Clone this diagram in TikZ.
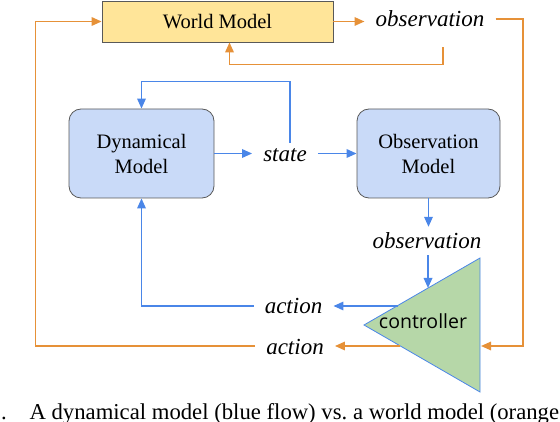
\documentclass[tikz,border=0pt]{standalone}
\usepackage{fontspec}
\setmainfont{Liberation Serif}
\newfontfamily\ctrlfont{Open Sans}
\usepackage{tikz}
\usetikzlibrary{positioning,arrows.meta}
\definecolor{flowblue}{HTML}{4A86E8}
\definecolor{floworange}{HTML}{E69138}
\definecolor{worldfill}{HTML}{FFE599}
\definecolor{modelfill}{HTML}{C9DAF8}
\definecolor{ctrlfill}{HTML}{B6D7A8}
\definecolor{edgegray}{HTML}{595959}

\begin{document}
\begin{tikzpicture}[x=1pt, y=-1pt,
    bflow/.style={draw=flowblue, line width=1.7pt, -{Triangle[length=10pt,width=8.5pt]}},
    oflow/.style={draw=floworange, line width=1.7pt, -{Triangle[length=10pt,width=8.5pt]}},
    model/.style={draw=edgegray, line width=0.8pt, fill=modelfill, rounded corners=12pt, minimum width=145pt, minimum height=89pt, align=center, font=\fontsize{20.5}{25}\selectfont},
    var/.style={font=\fontsize{23}{27}\selectfont\itshape, inner xsep=11pt, inner ysep=6pt}]

    \useasboundingbox (0,0) rectangle (560,422);

    \node [draw=edgegray, line width=0.8pt, fill=worldfill, minimum width=231pt, minimum height=41pt, font=\fontsize{20.5}{25}\selectfont] (world) at (217.5,21.5) {World Model};
    \node [var, anchor=base] (obstop) at (430,27) {observation};

    \node [model] (dyn) at (141.5,153.5) {Dynamical\\Model};
    \node [model, minimum width=143pt] (obsmodel) at (428.5,153.5) {Observation\\Model};
    \node [var, anchor=base] (state) at (285,162) {state};
    \node [var, anchor=base] (obs) at (427,249) {observation};

    % controller triangle
    \coordinate (ctip) at (364,325);
    \coordinate (ctop) at (480,258);
    \coordinate (cbot) at (480,392);
    \draw [draw=flowblue, fill=ctrlfill, line width=0.8pt] (ctip) -- (ctop) -- (cbot) -- cycle;
    \node [font=\ctrlfont\fontsize{19.5}{23}\selectfont, anchor=base] (ctrl) at (423,328) {controller};
    \coordinate (cin) at (428,288);
    \coordinate (coutb) at (398,306);
    \coordinate (couto) at (400,346);
    \coordinate (cinr) at (481,346);

    \node [var, anchor=base] (actb) at (293.5,313) {action};
    \node [var, anchor=base] (acto) at (295,355) {action};

    % world model (orange)
    \draw [oflow] (world.east) -- (world.east -| obstop.west);
    \draw [oflow] (obstop.east) -| ([xshift=42pt]cinr) -- (cinr);
    \draw [oflow] ([xshift=13pt,yshift=-14pt]obstop.south) |- ([xshift=12pt,yshift=-22pt]world.south) -- ([xshift=12pt]world.south);
    \draw [oflow] (couto) -- (couto -| acto.east);
    \draw [oflow] (couto -| acto.west) -| ([xshift=-66pt]world.west) -- (world.west);

    % dynamical model (blue)
    \draw [bflow] (dyn.east) -- (dyn.east -| state.west);
    \draw [bflow] (state.east |- obsmodel.west) -- (obsmodel.west);
    \draw [bflow] ([xshift=5pt]state.north) |- ([yshift=27pt]dyn.north) -- (dyn.north);
    \draw [bflow] (obsmodel.south) -- (obsmodel.south |- obs.north);
    \draw [bflow] (obs.south -| cin) -- (cin);
    \draw [bflow] (coutb) -- (coutb -| actb.east);
    \draw [bflow] (coutb -| actb.west) -| (dyn.south);

    \node [anchor=base west, inner sep=0pt, font=\fontsize{22.7}{27}\selectfont] (caption) at (1,419) {.\quad A dynamical model (blue flow) vs.\ a world model (orange};
\end{tikzpicture}
\end{document}
